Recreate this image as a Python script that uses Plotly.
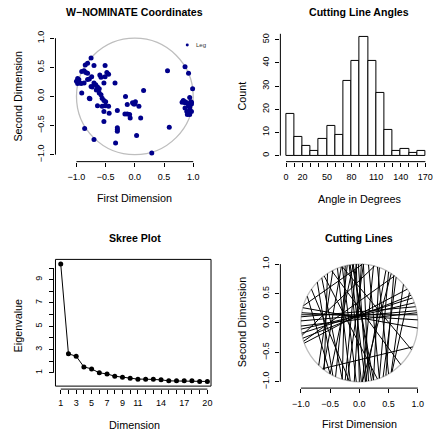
import math
import plotly.graph_objects as go

W, H = 433, 435
FONT = "Liberation Sans, Arial, sans-serif"
MINUS = "\u2212"

# ---------------- Panel 1: W-NOMINATE coordinates ----------------
nom_x = [-0.75, -0.81, -0.85, -0.70, -0.51, -0.91, -0.87, -0.84, -0.81, -0.74,
         -0.48, -0.45, -0.51, -0.58, -0.98, -0.96, -1.00, -0.95, -0.98, -0.92,
         -0.87, -0.81, -0.78, -0.70, -0.67, -0.53, -0.34, -0.75, -0.73, -0.64,
         -0.61, -0.91, -0.78, -0.61, -0.58, -0.56, -0.53, -0.50, -0.16, 0.01,
         -0.02, -0.64, -0.56, -0.51, -0.45, -0.53, -0.44, -0.30, -0.13, -0.04,
         0.00, 0.07, -0.17, -0.13, -0.09, -0.08, 0.10, -0.53, -0.30, -0.30,
         -0.86, -0.70, -0.33, 0.03, 0.29, 0.59, 0.86, 0.89, 0.93, 0.97,
         0.86, 0.89, 0.92, 0.94, 0.97, 0.94, 0.90, 0.56, 0.86, 0.92,
         0.99, 0.94, 0.15, 0.83, 0.81, 0.86, 0.96, 0.97, 0.92, 0.94,
         -0.60, -0.30, -0.66, -0.77]
nom_y = [0.66, 0.57, 0.54, 0.53, 0.53, 0.43, 0.44, 0.41, 0.40, 0.34,
         0.41, 0.38, 0.34, 0.33, 0.31, 0.29, 0.26, 0.24, 0.22, 0.22,
         0.23, 0.29, 0.30, 0.23, 0.20, 0.23, 0.23, 0.17, 0.16, 0.16,
         0.13, 0.06, -0.03, 0.06, 0.03, -0.03, -0.07, -0.09, 0.00, -0.09,
         -0.13, -0.16, -0.17, -0.16, -0.17, -0.26, -0.29, -0.24, -0.14, -0.11,
         -0.13, -0.17, -0.30, -0.30, -0.31, -0.37, -0.37, -0.43, -0.57, -0.60,
         -0.55, -0.74, -0.80, -0.67, -0.97, -0.53, -0.09, -0.11, -0.14, -0.10,
         -0.20, -0.26, -0.29, -0.23, -0.26, -0.31, -0.31, 0.44, 0.51, 0.40,
         0.13, -0.02, 0.10, -0.07, -0.10, -0.11, -0.09, -0.13, -0.16, -0.18,
         0.37, -0.54, 0.11, -0.04]
dim_ticks = [-1.0, -0.5, 0.0, 0.5, 1.0]
dim_ticklabels = [MINUS + "1.0", MINUS + "0.5", "0.0", "0.5", "1.0"]

# ---------------- Panel 2: cutting line angles ----------------
angle_bin_left = [0, 10, 20, 30, 40, 50, 60, 70, 80, 90, 100, 110, 120, 130, 140, 150, 160]
angle_counts = [18, 8, 4, 2, 7, 13, 9, 32, 41, 51, 41, 27, 11, 2, 3, 1, 2]
angle_ticks = [0, 10, 20, 30, 40, 50, 60, 70, 80, 90, 100, 110, 120, 130, 140, 150, 160, 170]
angle_ticklabels = ["0", "", "20", "", "", "50", "", "", "80", "", "", "110", "", "", "140", "", "", "170"]
count_ticks = [0, 10, 20, 30, 40, 50]
count_ticklabels = ["0", "10", "20", "30", "40", "50"]

# ---------------- Panel 3: skree plot ----------------
skree_dim = [1, 2, 3, 4, 5, 6, 7, 8, 9, 10, 11, 12, 13, 14, 15, 16, 17, 18, 19, 20]
skree_eig = [10.34, 2.63, 2.43, 1.51, 1.34, 1.00, 0.91, 0.71, 0.63, 0.54,
             0.46, 0.46, 0.46, 0.40, 0.31, 0.31, 0.31, 0.31, 0.26, 0.26]
skree_xticklabels = ["1", "", "3", "", "5", "", "7", "", "9", "", "11", "", "", "14", "", "", "17", "", "", "20"]
skree_yticks = [1, 2, 3, 4, 5, 6, 7, 8, 9, 10]
skree_yticklabels = ["1", "", "3", "", "5", "", "7", "", "9", ""]

# ---------------- Panel 4: cutting lines (endpoint angles on unit circle, degrees) ----------------
cut_start_deg = [136, 130, 123, 112, 107, 102, 99, 96, 96, 93,
                 93, 86, 86, 81, 76, 70, 63, 57, 54, 51,
                 41, 91, 104, 117, 72, 97, 88, 100, 60, 108,
                 153, 75, 87, 31, -129, 127, 107, -162, 118, 145,
                 174, 178, 183, 186, 172, 190, 170, 195, 165, 200]
cut_end_deg = [-117, -107, -127, -99, -93, -114, -84, -120, -78, -104,
               -90, -81, -102, -70, -87, -76, -84, -87, -63, -66,
               -57, -83, -107, -134, -60, -76, -95, -88, -70, -128,
               -120, 192, 163, -56, -24, -72, -27, 53, -45, -100,
               16, 12, 10, 20, 8, 25, 3, 28, -5, 35]


def xdom(l, r):
    return [l / W, r / W]


def ydom(t, b):
    return [1 - b / H, 1 - t / H]


def calib(pa, pb, v1, p1, v2, p2):
    s = (v2 - v1) / (p2 - p1)
    return [v1 + (pa - p1) * s, v1 + (pb - p1) * s]


def px2val(p, v1, p1, v2, p2):
    return v1 + (p - p1) * (v2 - v1) / (p2 - p1)


fig = go.Figure()

# Panel 1 traces
fig.add_trace(go.Scatter(x=nom_x, y=nom_y, mode="markers", xaxis="x", yaxis="y",
                         marker=dict(color="#00008B", size=5, line=dict(width=0)),
                         showlegend=False, hoverinfo="skip"))

# Panel 2 traces
fig.add_trace(go.Bar(x=angle_bin_left, y=angle_counts, width=10, offset=0, xaxis="x2", yaxis="y2",
                     marker=dict(color="white", line=dict(color="black", width=1)),
                     showlegend=False, hoverinfo="skip"))

# Panel 3 traces
fig.add_trace(go.Scatter(x=skree_dim, y=skree_eig, mode="lines+markers", xaxis="x3", yaxis="y3",
                         line=dict(color="black", width=1),
                         marker=dict(color="black", size=5),
                         showlegend=False, hoverinfo="skip"))

# Panel 4 traces
cx, cy = [], []
for a, b in zip(cut_start_deg, cut_end_deg):
    cx += [math.cos(math.radians(a)), math.cos(math.radians(b)), None]
    cy += [math.sin(math.radians(a)), math.sin(math.radians(b)), None]
fig.add_trace(go.Scatter(x=cx, y=cy, mode="lines", xaxis="x4", yaxis="y4",
                         line=dict(color="black", width=1),
                         showlegend=False, hoverinfo="skip"))

tickfont = dict(family=FONT, size=9, color="black", weight="normal")
common = dict(showgrid=False, zeroline=False, showline=False, ticks="outside", ticklen=4,
              tickwidth=1, tickcolor="black", tickfont=tickfont, tickmode="array", fixedrange=True,
              ticklabeloverflow="allow")

# panel geometry (pixels)
P1 = dict(l=56, r=208, t=30, b=162)
P2 = dict(l=283, r=433, t=30, b=162)
P3 = dict(l=54, r=216, t=255, b=390)
P4 = dict(l=283, r=433, t=255, b=389)

x1r = calib(P1["l"], P1["r"], -1, 77.2, 1, 195)
y1r = calib(P1["b"], P1["t"], 1, 38.3, -1, 155)
x2r = calib(P2["l"], P2["r"], 0, 288.7, 170, 429.3)
y2r = calib(P2["b"], P2["t"], 0, 156, 50, 39.7)
x3r = calib(P3["l"], P3["r"], 1, 61.3, 20, 209.3)
y3r = calib(P3["b"], P3["t"], 1, 373.7, 9, 280.3)
x4r = calib(P4["l"], P4["r"], -1, 303.7, 1, 421.7)
y4r = calib(P4["b"], P4["t"], 1, 264.7, -1, 382.7)

XS = 3  # extra standoff for x tick labels
YS = 3  # extra standoff for y tick labels

fig.update_layout(
    width=W, height=H, margin=dict(l=0, r=0, t=0, b=0),
    paper_bgcolor="white", plot_bgcolor="rgba(0,0,0,0)",
    font=dict(family=FONT, color="black"),
    showlegend=False,
    bargap=0,
    xaxis=dict(domain=xdom(P1["l"], P1["r"]), range=x1r, anchor="y", ticklabelstandoff=XS,
               tickvals=dim_ticks, ticktext=dim_ticklabels, **common),
    yaxis=dict(domain=ydom(P1["t"], P1["b"]), range=y1r, anchor="x", ticklabelstandoff=YS,
               tickvals=dim_ticks, ticktext=dim_ticklabels, tickangle=-90, **common),
    xaxis2=dict(domain=xdom(P2["l"], P2["r"]), range=x2r, anchor="y2", ticklabelstandoff=XS,
                tickvals=angle_ticks, ticktext=angle_ticklabels, **common),
    yaxis2=dict(domain=ydom(P2["t"], P2["b"]), range=y2r, anchor="x2", ticklabelstandoff=YS,
                tickvals=count_ticks, ticktext=count_ticklabels, tickangle=-90, **common),
    xaxis3=dict(domain=xdom(P3["l"], P3["r"]), range=x3r, anchor="y3", ticklabelstandoff=1,
                tickvals=skree_dim, ticktext=skree_xticklabels, **common),
    yaxis3=dict(domain=ydom(P3["t"], P3["b"]), range=y3r, anchor="x3", ticklabelstandoff=YS,
                tickvals=skree_yticks, ticktext=skree_yticklabels, tickangle=-90, **common),
    xaxis4=dict(domain=xdom(P4["l"], P4["r"]), range=x4r, anchor="y4", ticklabelstandoff=XS,
                tickvals=dim_ticks, ticktext=dim_ticklabels, **common),
    yaxis4=dict(domain=ydom(P4["t"], P4["b"]), range=y4r, anchor="x4", ticklabelstandoff=YS,
                tickvals=dim_ticks, ticktext=dim_ticklabels, tickangle=-90, **common),
)

ax_line = dict(color="black", width=1)
shapes = []
# axis lines (R style: spanning first to last tick)
for xa, ya, xt, yt in [("x", "y", dim_ticks, dim_ticks),
                       ("x2", "y2", angle_ticks, [0, 52.5]),
                       ("x3", "y3", skree_dim, skree_yticks),
                       ("x4", "y4", dim_ticks, dim_ticks)]:
    shapes.append(dict(type="line", xref=xa, yref=ya + " domain", x0=min(xt), x1=max(xt), y0=0, y1=0,
                       line=ax_line))
    shapes.append(dict(type="line", xref=xa + " domain", yref=ya, x0=0, x1=0, y0=min(yt), y1=max(yt),
                       line=ax_line))
# unit circles
shapes.append(dict(type="circle", xref="x", yref="y", x0=-1, x1=1, y0=-1, y1=1,
                   line=dict(color="#BEBEBE", width=1.3), layer="below"))
shapes.append(dict(type="circle", xref="x4", yref="y4", x0=-1, x1=1, y0=-1, y1=1,
                   line=dict(color="#BEBEBE", width=1.3), layer="below"))
# skree box
bx0 = px2val(56, 1, 61.3, 20, 209.3)
bx1 = px2val(213, 1, 61.3, 20, 209.3)
by0 = px2val(387, 1, 373.7, 9, 280.3)
by1 = px2val(260, 1, 373.7, 9, 280.3)
shapes.append(dict(type="rect", xref="x3", yref="y3", x0=bx0, x1=bx1, y0=by0, y1=by1,
                   line=dict(color="black", width=1)))
# legend marker in panel 1
shapes.append(dict(type="circle", xref="paper", yref="paper",
                   x0=187.5 / W, x1=190.5 / W, y0=1 - 46.5 / H, y1=1 - 43.5 / H,
                   fillcolor="#00008B", line=dict(width=0)))
fig.update_layout(shapes=shapes)

ann = []


def txt(s, px, py, size, bold=False, angle=0, xanchor="center"):
    ann.append(dict(text=s, x=px / W, y=1 - py / H,
                    xref="paper", yref="paper", showarrow=False, textangle=angle,
                    xanchor=xanchor, yanchor="middle",
                    font=dict(family=FONT, size=size, color="black",
                              weight="bold" if bold else "normal")))


# titles
txt("W" + MINUS + "NOMINATE Coordinates", 135.5, 12.5, 10.6, bold=True)
txt("Cutting Line Angles", 362.7, 12.5, 10.6, bold=True)
txt("Skree Plot", 136, 239, 10.6, bold=True)
txt("Cutting Lines", 362.5, 239, 10.6, bold=True)
# axis titles
txt("First Dimension", 136, 198.5, 10.8)
txt("Second Dimension", 18.3, 96.7, 10.8, angle=-90)
txt("Angle in Degrees", 362.7, 199, 10.8)
txt("Count", 244.3, 96.7, 10.8, angle=-90)
txt("Dimension", 136, 426, 10.8)
txt("Eigenvalue", 18.3, 327, 10.8, angle=-90)
txt("First Dimension", 362.7, 425.3, 10.8)
txt("Second Dimension", 244.3, 323, 10.8, angle=-90)
# legend text (clipped in the original)
ann.append(dict(text="Leg", x=196 / W, y=1 - 45 / H, xref="paper", yref="paper", showarrow=False,
                xanchor="left", yanchor="middle", font=dict(family=FONT, size=6, color="#333333")))
fig.update_layout(annotations=ann)

fig.write_html("out.html")
